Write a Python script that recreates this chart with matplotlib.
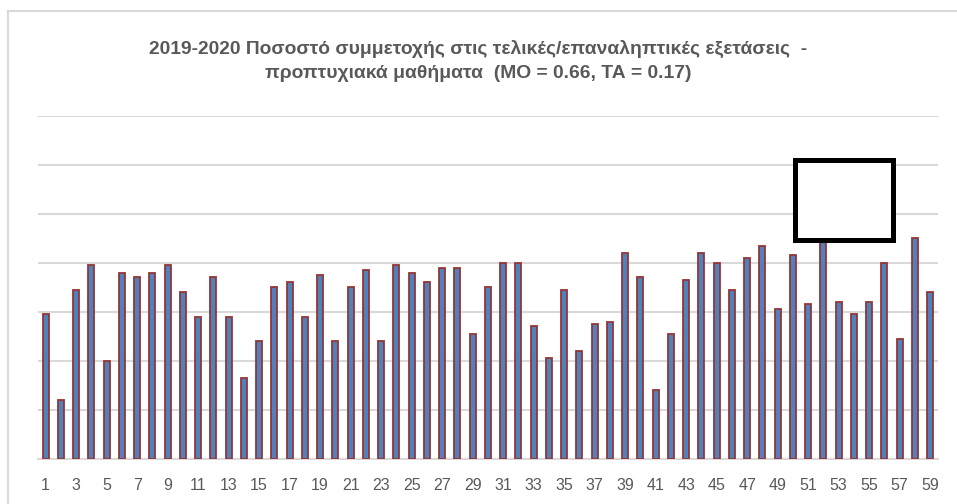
import matplotlib
matplotlib.use("Agg")
import matplotlib.pyplot as plt
from matplotlib.patches import Rectangle
from matplotlib.lines import Line2D
import numpy as np

# participation rate per undergraduate course, 2019-2020
courses = list(range(1, 60))
rates = [0.59, 0.24, 0.69, 0.79, 0.40, 0.76, 0.74, 0.76, 0.79, 0.68,
         0.58, 0.74, 0.58, 0.33, 0.48, 0.70, 0.72, 0.58, 0.75, 0.48,
         0.70, 0.77, 0.48, 0.79, 0.76, 0.72, 0.78, 0.78, 0.51, 0.70,
         0.80, 0.80, 0.54, 0.41, 0.69, 0.44, 0.55, 0.56, 0.84, 0.74,
         0.28, 0.51, 0.73, 0.84, 0.80, 0.69, 0.82, 0.87, 0.61, 0.83,
         0.63, 0.95, 0.64, 0.59, 0.64, 0.80, 0.49, 0.90, 0.68]
tick_labels = [str(c) if c % 2 == 1 else "" for c in courses]

TITLE = ("2019-2020 Ποσοστό συμμετοχής στις τελικές/επαναληπτικές εξετάσεις  -\n"
         "προπτυχιακά μαθήματα  (ΜΟ = 0.66, ΤΑ = 0.17)")

plt.rcParams["font.family"] = ["Liberation Sans Narrow", "Liberation Sans", "DejaVu Sans"]

W, H = 957, 504
fig = plt.figure(figsize=(W / 100, H / 100), dpi=100)
ax = fig.add_axes([38 / W, (H - 458.7) / H, (937.7 - 38) / W, (458.7 - 115.7) / H])

x = np.arange(len(courses))
ax.bar(x, rates, width=0.40, color="#4F81BD", edgecolor="#943634", linewidth=1.3, zorder=3)

ax.set_xlim(-0.5, len(courses) - 0.5)
ax.set_ylim(0, 1.4)
ax.set_yticks(np.arange(0, 1.41, 0.2))
ax.yaxis.grid(True, color="#D9D9D9", linewidth=1.5, zorder=0)
ax.tick_params(axis="y", left=False, labelleft=False)
ax.set_xticks(x)
ax.set_xticklabels(tick_labels, fontsize=11.5, color="#595959",
                   family=["Liberation Sans", "DejaVu Sans"])
ax.tick_params(axis="x", length=0, pad=14)
for s in ["top", "right", "left"]:
    ax.spines[s].set_visible(False)
ax.spines["bottom"].set_color("#D9D9D9")
ax.spines["bottom"].set_linewidth(1.5)

fig.text(0.5, 1 - 61 / H, TITLE, ha="center", va="center", fontsize=13.9,
         fontweight="bold", color="#595959", linespacing=1.5)

# chart frame (only left and top edges are visible)
fig.add_artist(Line2D([8 / W, 8 / W], [0, 1 - 11 / H], color="#D9D9D9", lw=1.5))
fig.add_artist(Line2D([8 / W, 1], [1 - 11 / H, 1 - 11 / H], color="#D9D9D9", lw=1.5))

# redaction box
fig.add_artist(Rectangle((794.5 / W, 1 - 240 / H), 98 / W, 80.5 / H,
                         transform=fig.transFigure, facecolor="white",
                         edgecolor="black", linewidth=3.6, zorder=10))

fig.savefig("out.png", dpi=100)
